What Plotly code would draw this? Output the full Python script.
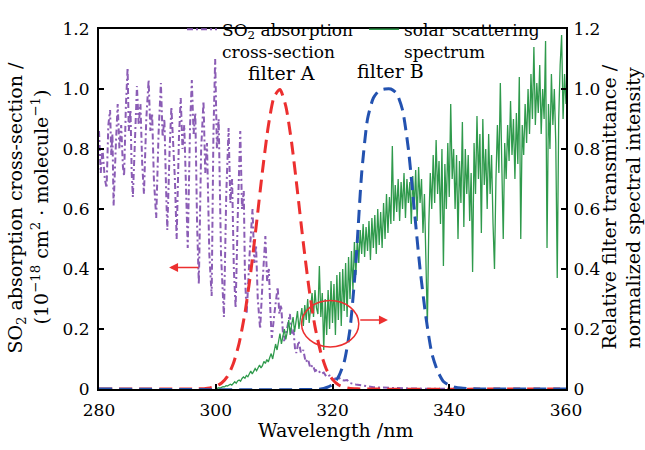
import plotly.graph_objects as go

# ---- SO2 absorption cross-section (1e-18 cm^2/molecule) ----
so2_wl = [280.0, 280.3, 280.6, 281.0, 281.3,
          281.6, 281.9, 282.1, 282.3, 282.5,
          282.9, 283.2, 283.5, 283.8, 284.1, 284.3,
          284.6, 284.9, 285.1, 285.4, 285.6, 285.8,
          286.2, 286.5, 286.8, 287.1, 287.4, 287.7,
          288.1, 288.5, 288.8, 289.1, 289.4, 289.8,
          290.2, 290.6, 290.9, 291.2, 291.5, 291.7,
          292.1, 292.4, 292.7, 293.0, 293.3,
          293.7, 294.0, 294.3, 294.6, 294.9, 295.2,
          295.6, 295.9, 296.2, 296.5, 296.8, 297.1,
          297.5, 297.9, 298.2, 298.5, 298.9, 299.3,
          299.6, 299.9, 300.2, 300.5, 300.9, 301.4,
          301.8, 302.2, 302.5, 302.8, 303.1, 303.4,
          303.8, 304.2, 304.5, 304.8, 305.0, 305.3,
          305.8, 306.3, 306.6, 306.9, 307.2, 307.6,
          308.0, 308.5, 308.8, 309.1, 309.4, 309.6,
          310.1, 310.6, 310.9, 311.2, 311.5, 311.7,
          312.2, 312.7, 313.0, 313.3, 313.6, 313.8,
          314.2, 314.6, 315.0, 315.4, 315.8, 316.2, 316.6, 317.0,
          317.5, 318.0, 318.5, 319.0, 319.5, 320.0, 320.5, 321.0,
          321.5, 322.0, 322.5, 323.0, 324.0, 325.0, 326.0, 327.0,
          328.0, 330.0, 333.0, 336.0, 340.0, 345.0]
so2_xs = [0.86, 0.72, 0.80, 0.70, 0.67,
          0.88, 0.93, 0.78, 0.85, 0.61,
          0.82, 0.95, 0.80, 0.88, 0.74, 0.71,
          0.94, 1.07, 0.86, 0.93, 0.72, 0.64,
          0.85, 1.01, 0.88, 0.95, 0.75, 0.65,
          0.90, 1.03, 0.86, 0.92, 0.70, 0.57,
          0.85, 1.02, 0.84, 0.90, 0.66, 0.53,
          0.80, 0.94, 0.82, 0.70, 0.50,
          0.84, 0.97, 0.80, 0.88, 0.62, 0.47,
          0.88, 1.03, 0.85, 0.92, 0.55, 0.35,
          0.80, 0.96, 0.72, 0.82, 0.45, 0.31,
          0.85, 1.10, 0.80, 0.90, 0.45, 0.24,
          0.65, 0.87, 0.62, 0.70, 0.40, 0.27,
          0.60, 0.86, 0.60, 0.66, 0.38, 0.25,
          0.45, 0.60, 0.42, 0.48, 0.30, 0.20,
          0.35, 0.51, 0.36, 0.40, 0.24, 0.17,
          0.26, 0.34, 0.25, 0.28, 0.19, 0.16,
          0.20, 0.25, 0.18, 0.20, 0.13, 0.12,
          0.16, 0.12, 0.13, 0.09, 0.10, 0.07, 0.08, 0.06,
          0.065, 0.05, 0.055, 0.04, 0.045, 0.03, 0.035, 0.04,
          0.03, 0.028, 0.03, 0.02, 0.015, 0.012, 0.008, 0.006,
          0.005, 0.003, 0.002, 0.001, 0.0, 0.0]

# ---- normalized solar scattering spectrum, 300-360 nm every 0.25 nm ----
solar_start, solar_step = 300.0, 0.25
solar_int = [
    0.000, 0.002, 0.004, 0.003, 0.006, 0.008, 0.007, 0.011, 0.010, 0.014,
    0.016, 0.013, 0.020, 0.024, 0.019, 0.027, 0.030, 0.026, 0.035, 0.040,
    0.036, 0.045, 0.041, 0.052, 0.060, 0.050, 0.058, 0.068, 0.061, 0.072,
    0.080, 0.070, 0.078, 0.092, 0.085, 0.098, 0.090, 0.105, 0.118, 0.100,
    0.125, 0.150, 0.130, 0.165, 0.185, 0.150, 0.175, 0.200, 0.165, 0.190,
    0.230, 0.180, 0.215, 0.240, 0.190, 0.225, 0.260, 0.200, 0.240, 0.270,
    0.210, 0.280, 0.230, 0.300, 0.220, 0.260, 0.320, 0.240, 0.330, 0.270,
    0.250, 0.410, 0.240, 0.320, 0.130, 0.300, 0.180, 0.330, 0.200, 0.360,
    0.220, 0.350, 0.180, 0.380, 0.230, 0.390, 0.210, 0.400, 0.260, 0.420,
    0.240, 0.440, 0.300, 0.460, 0.330, 0.490, 0.380, 0.500, 0.420, 0.530,
    0.450, 0.550, 0.440, 0.540, 0.460, 0.560, 0.430, 0.570, 0.470, 0.580,
    0.450, 0.600, 0.480, 0.590, 0.470, 0.620, 0.500, 0.650, 0.520, 0.640,
    0.550, 0.810, 0.560, 0.680, 0.590, 0.700, 0.560, 0.690, 0.600, 0.720,
    0.570, 0.700, 0.620, 0.690, 0.550, 0.710, 0.600, 0.730, 0.560, 0.740,
    0.620, 0.700, 0.520, 0.650, 0.400, 0.210, 0.550, 0.720, 0.600, 0.780,
    0.620, 0.830, 0.650, 0.760, 0.550, 0.800, 0.410, 0.750, 0.600, 0.820,
    0.640, 0.950, 0.700, 0.800, 0.600, 0.780, 0.500, 0.760, 0.620, 0.890,
    0.540, 0.800, 0.650, 0.780, 0.560, 0.720, 0.390, 0.820, 0.650, 0.910,
    0.700, 0.850, 0.520, 0.900, 0.680, 0.800, 0.600, 0.850, 0.650, 0.780,
    0.550, 0.400, 0.700, 0.880, 0.720, 1.020, 0.750, 0.500, 0.820, 0.700,
    0.880, 0.760, 0.960, 0.780, 0.900, 0.700, 0.920, 0.750, 1.040, 0.500,
    0.880, 0.780, 0.950, 0.820, 1.000, 0.850, 1.050, 0.900, 1.140, 0.880,
    1.020, 0.920, 1.080, 0.850, 1.000, 0.900, 1.160, 0.470, 0.950, 0.800,
    1.050, 0.880, 1.000, 0.820, 0.370, 0.900, 1.080, 1.180, 0.900, 1.050,
    0.950]
solar_wl = [solar_start + i * solar_step for i in range(len(solar_int))]

# ---- relative transmittance of the two band-pass filters ----
filter_a_wl = [280, 296, 297, 298, 299, 300, 301, 302, 303, 304, 305, 306,
               307, 308, 309, 310, 311, 312, 313, 314, 315, 316, 317, 318,
               319, 320, 321, 322, 323, 324, 325, 360]
filter_a_t = [0.0, 0.0001, 0.0004, 0.0012, 0.0034, 0.0086, 0.020, 0.042,
              0.084, 0.152, 0.253, 0.390, 0.555, 0.726, 0.876, 0.974, 0.998,
              0.943, 0.821, 0.658, 0.487, 0.332, 0.208, 0.121, 0.064, 0.032,
              0.014, 0.006, 0.002, 0.001, 0.0, 0.0]

filter_b_wl = [280, 318, 319, 320, 321, 322, 323, 324, 325, 326, 327, 328,
               329, 330, 331, 332, 333, 334, 335, 336, 337, 338, 339, 340,
               341, 342, 344, 346, 360]
filter_b_t = [0.0, 0.0, 0.005, 0.015, 0.04, 0.09, 0.20, 0.42, 0.72, 0.90,
              0.97, 0.995, 1.0, 1.0, 0.985, 0.93, 0.80, 0.60, 0.40, 0.24,
              0.12, 0.06, 0.025, 0.012, 0.006, 0.003, 0.001, 0.0, 0.0]

x_ticks = [280, 300, 320, 340, 360]
y_ticks = [0, 0.2, 0.4, 0.6, 0.8, 1.0, 1.2]
y_tick_text = ["0", "0.2", "0.4", "0.6", "0.8", "1.0", "1.2"]

PURPLE = "#8b5db5"
GREEN = "#2f9a4c"
RED = "#ec2f2f"
BLUE = "#2352b0"
FONT = "DejaVu Serif"
TXT = 19

# plot area in pixels (used to place the free-standing labels)
L, R, T, B = 99, 566, 14, 389
W, H = R - L, B - T


def px_x(px):
    return (px - L) / W


def px_y(py):
    return (B - py) / H


fig = go.Figure()

fig.add_trace(go.Scatter(
    x=so2_wl, y=so2_xs, mode="lines", yaxis="y", legend="legend",
    name="SO<sub>2</sub> absorption<br>cross-section",
    line=dict(color=PURPLE, width=2, dash="6px,3px,2px,3px"),
))
fig.add_trace(go.Scatter(
    x=solar_wl, y=solar_int, mode="lines", yaxis="y2", legend="legend2",
    name="solar scattering<br>spectrum",
    line=dict(color=GREEN, width=1.3),
))
fig.add_trace(go.Scatter(
    x=filter_a_wl, y=filter_a_t, mode="lines", yaxis="y2", showlegend=False,
    line=dict(color=RED, width=3, dash="13px,7px", shape="spline", smoothing=0.6),
))
fig.add_trace(go.Scatter(
    x=filter_b_wl, y=filter_b_t, mode="lines", yaxis="y2", showlegend=False,
    line=dict(color=BLUE, width=3, dash="13px,7px", shape="spline", smoothing=0.6),
))

axis_common = dict(
    showline=True, linecolor="black", linewidth=2, ticks="inside",
    ticklen=5, tickwidth=1.5, tickcolor="black", showgrid=False,
    zeroline=False, tickfont=dict(family=FONT, size=17, color="black"),
)

legend_common = dict(xanchor="left", yanchor="top", valign="top",
                     bgcolor="rgba(0,0,0,0)",
                     font=dict(family=FONT, size=17, color="black"))

fig.update_layout(
    width=645, height=450,
    margin=dict(l=L, r=645 - R, t=T, b=450 - B),
    paper_bgcolor="white", plot_bgcolor="white",
    font=dict(family=FONT, size=TXT, color="black"),
    xaxis=dict(range=[280, 360], tickvals=x_ticks, mirror=True,
               ticklabelstandoff=5, **axis_common),
    yaxis=dict(range=[0, 1.2], tickvals=y_ticks, ticktext=y_tick_text,
               ticklabelstandoff=4, **axis_common),
    yaxis2=dict(range=[0, 1.2], tickvals=y_ticks, ticktext=y_tick_text,
                overlaying="y", side="right", ticklabelstandoff=2,
                **axis_common),
    legend=dict(x=px_x(182), y=px_y(-4), **legend_common),
    legend2=dict(x=px_x(364), y=px_y(-4), **legend_common),
    showlegend=True,
)

# filter labels
fig.add_annotation(x=311.3, y=1.055, text="filter A", showarrow=False,
                   font=dict(family=FONT, size=TXT), yref="y2")
fig.add_annotation(x=330.0, y=1.06, text="filter B", showarrow=False,
                   font=dict(family=FONT, size=TXT), yref="y2")

# ellipse marking the overlap region and the axis-pointing arrows
fig.add_shape(type="circle", xref="x", yref="y2", x0=314.7, x1=324.5,
              y0=0.14, y1=0.295, line=dict(color=RED, width=1.5))
fig.add_annotation(x=292.0, y=0.405, ax=297.3, ay=0.405, axref="x", ayref="y",
                   xref="x", yref="y", text="", showarrow=True,
                   arrowhead=2, arrowsize=1.2, arrowwidth=1.5, arrowcolor=RED)
fig.add_annotation(x=329.5, y=0.23, ax=324.5, ay=0.23, axref="x", ayref="y2",
                   xref="x", yref="y2", text="", showarrow=True,
                   arrowhead=2, arrowsize=1.2, arrowwidth=1.5, arrowcolor=RED)

# axis titles
title_font = dict(family=FONT, size=TXT, color="black")
fig.add_annotation(xref="paper", yref="paper", x=px_x(335), y=px_y(432),
                   text="Wavelength /nm", showarrow=False, font=title_font,
                   yanchor="middle")
left_lines = [(17, "SO<sub>2</sub> absorption cross-section /"),
              (40, "(10<sup>\u221218</sup> cm<sup>2</sup> \u00b7 "
                   "molecule<sup>\u22121</sup>)")]
right_lines = [(609, "Relative filter transmittance /"),
               (633, "normalized spectral intensity")]
for xpx, txt in left_lines + right_lines:
    fig.add_annotation(xref="paper", yref="paper", x=px_x(xpx), y=px_y(200),
                       text=txt, textangle=-90, showarrow=False,
                       font=title_font, xanchor="center", yanchor="middle")

fig.write_html("out.html")
